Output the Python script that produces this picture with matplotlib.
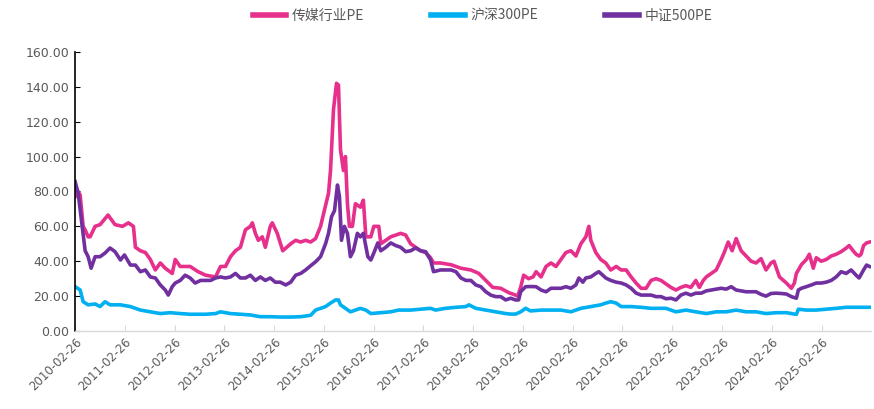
import matplotlib
matplotlib.use("Agg")
import matplotlib.pyplot as plt

# x values are decimal years
media_t = [2010.16, 2010.22, 2010.26, 2010.32, 2010.36, 2010.42, 2010.46, 2010.56, 2010.66, 2010.82,
           2010.96, 2011.11, 2011.23, 2011.33, 2011.37, 2011.47, 2011.57, 2011.67, 2011.77, 2011.87,
           2011.97, 2012.11, 2012.17, 2012.27, 2012.47, 2012.63, 2012.78, 2012.98, 2013.08, 2013.18,
           2013.28, 2013.38, 2013.48, 2013.58, 2013.68, 2013.72, 2013.78, 2013.84, 2013.92, 2013.98,
           2014.08, 2014.12, 2014.22, 2014.33, 2014.41, 2014.49, 2014.59, 2014.69, 2014.79, 2014.89,
           2014.99, 2015.09, 2015.19, 2015.25, 2015.29, 2015.35, 2015.41, 2015.45, 2015.49, 2015.55,
           2015.59, 2015.63, 2015.67, 2015.73, 2015.79, 2015.89, 2015.95, 2016.00, 2016.10, 2016.16,
           2016.26, 2016.30, 2016.40, 2016.50, 2016.60, 2016.70, 2016.80, 2016.90, 2017.00, 2017.10,
           2017.20, 2017.30, 2017.36, 2017.50, 2017.71, 2017.91, 2018.11, 2018.27, 2018.41, 2018.55,
           2018.71, 2018.87, 2018.97, 2019.05, 2019.11, 2019.17, 2019.27, 2019.36, 2019.42, 2019.52,
           2019.62, 2019.72, 2019.82, 2019.92, 2020.02, 2020.12, 2020.22, 2020.32, 2020.42, 2020.48,
           2020.52, 2020.62, 2020.72, 2020.82, 2020.92, 2021.03, 2021.13, 2021.23, 2021.33, 2021.43,
           2021.53, 2021.63, 2021.73, 2021.83, 2021.93, 2022.03, 2022.13, 2022.23, 2022.33, 2022.43,
           2022.53, 2022.63, 2022.70, 2022.78, 2022.84, 2022.94, 2023.04, 2023.14, 2023.20, 2023.28,
           2023.36, 2023.44, 2023.54, 2023.64, 2023.74, 2023.84, 2023.94, 2024.04, 2024.14, 2024.20,
           2024.31, 2024.45, 2024.55, 2024.61, 2024.65, 2024.75, 2024.85, 2024.91, 2024.99, 2025.05,
           2025.15, 2025.25, 2025.35, 2025.45, 2025.55, 2025.65, 2025.71, 2025.79, 2025.85, 2025.91,
           2025.95, 2026.00, 2026.06, 2026.12]
media_pe = [77, 80, 78, 60, 58, 54, 54, 60, 61, 66.5,
            61, 60, 62, 60, 48, 46, 45, 41, 35, 39,
            36, 33, 41, 37, 37, 34, 32, 31, 37, 37,
            42.6, 46, 48, 58, 60, 62, 56, 52, 54, 48,
            60, 62, 56, 46, 48, 50, 52, 51, 52, 51,
            53, 60, 72, 79, 92, 127, 142, 141, 104, 92,
            100, 73, 60, 60, 73, 71, 75, 54, 54, 60,
            60, 50, 52, 54, 55, 56, 55, 50, 48, 46,
            45, 42, 39, 39, 38, 36, 35, 33, 29, 25,
            24.5, 22, 21, 20, 25, 32, 30, 31, 34, 31,
            37, 39, 37, 41, 45, 46, 43, 50, 54, 60,
            52, 45, 41, 39, 35, 37, 35, 35, 31, 27.5,
            24.5, 24.5, 29, 30, 29, 27, 25, 23.5, 25, 26,
            25, 29, 25, 29, 31, 33, 35, 41, 45, 51,
            46, 53, 46, 43, 40, 39, 41.5, 35, 39, 40,
            31, 27.5, 24.5, 27.5, 33, 38, 41, 44, 36, 42,
            40, 41, 43, 44, 45.5, 47.5, 49, 46, 44, 43,
            44, 49, 50.5, 51]

csi500_t = [2010.16, 2010.22, 2010.30, 2010.36, 2010.42, 2010.48, 2010.56, 2010.66, 2010.76, 2010.86,
            2010.96, 2011.07, 2011.15, 2011.27, 2011.37, 2011.47, 2011.57, 2011.67, 2011.77, 2011.87,
            2011.97, 2012.03, 2012.11, 2012.17, 2012.27, 2012.37, 2012.47, 2012.57, 2012.68, 2012.78,
            2012.88, 2012.98, 2013.08, 2013.18, 2013.28, 2013.38, 2013.48, 2013.58, 2013.68, 2013.78,
            2013.88, 2013.98, 2014.08, 2014.18, 2014.28, 2014.39, 2014.49, 2014.59, 2014.69, 2014.79,
            2014.89, 2014.99, 2015.09, 2015.19, 2015.25, 2015.31, 2015.37, 2015.43, 2015.47, 2015.51,
            2015.57, 2015.63, 2015.69, 2015.75, 2015.83, 2015.89, 2015.95, 2016.04, 2016.10, 2016.16,
            2016.24, 2016.30, 2016.40, 2016.50, 2016.60, 2016.70, 2016.80, 2016.90, 2017.00, 2017.10,
            2017.20, 2017.30, 2017.36, 2017.50, 2017.71, 2017.81, 2017.91, 2018.01, 2018.11, 2018.21,
            2018.31, 2018.41, 2018.51, 2018.61, 2018.71, 2018.81, 2018.91, 2019.01, 2019.07, 2019.11,
            2019.21, 2019.31, 2019.42, 2019.52, 2019.62, 2019.72, 2019.82, 2019.92, 2020.02, 2020.12,
            2020.22, 2020.28, 2020.36, 2020.42, 2020.52, 2020.62, 2020.68, 2020.76, 2020.82, 2020.92,
            2021.03, 2021.13, 2021.23, 2021.33, 2021.43, 2021.53, 2021.63, 2021.73, 2021.83, 2021.93,
            2022.03, 2022.13, 2022.23, 2022.33, 2022.43, 2022.53, 2022.63, 2022.74, 2022.84, 2022.94,
            2023.04, 2023.14, 2023.24, 2023.34, 2023.44, 2023.54, 2023.64, 2023.74, 2023.84, 2023.94,
            2024.04, 2024.14, 2024.24, 2024.35, 2024.45, 2024.55, 2024.65, 2024.69, 2024.75, 2024.85,
            2024.95, 2025.05, 2025.15, 2025.25, 2025.35, 2025.45, 2025.55, 2025.65, 2025.75, 2025.85,
            2025.91, 2026.00, 2026.06, 2026.12]
csi500_pe = [85.6, 79, 60, 46, 42.6, 36, 42.6, 42.6, 44.7, 47.6,
             45.5, 40.7, 43.6, 37.8, 37.8, 34, 35, 31, 30.4, 26.4,
             23.5, 20.6, 25.4, 27.5, 29, 32, 30.4, 27.5, 29, 29,
             29, 30.4, 31, 30.4, 31, 33, 30.4, 30.4, 32, 29,
             31, 29, 30.4, 28, 28, 26.4, 28, 32, 33, 35,
             37.4, 39.7, 42.6, 50, 56, 65.5, 69, 83.7, 77, 52,
             60, 56, 42.6, 46, 56, 54, 56, 42.6, 40.7, 44.7,
             50.5, 46, 48, 50.5, 49, 48, 45.5, 46, 47.6, 46,
             45.5, 40.7, 34, 35, 35, 34, 30.4, 29, 29, 26.4,
             25.4, 22.5, 20.6, 19.7, 19.7, 17.8, 18.8, 17.8, 17.8, 22.5,
             25.4, 25.5, 25.4, 23.5, 22.5, 24.5, 24.5, 24.5, 25.4, 24.5,
             26.4, 30.4, 28, 30.4, 31, 33, 34, 32, 30.4, 29,
             28, 27.5, 26.4, 24.5, 21.7, 20.6, 20.6, 20.6, 19.7, 19.7,
             18.5, 18.8, 17.8, 20.6, 21.7, 20.6, 21.7, 21.7, 23, 23.5,
             24, 24.5, 24, 25.4, 23.5, 23, 22.5, 22.5, 22.5, 21,
             20, 21.5, 21.7, 21.5, 21.2, 19.7, 18.8, 23.5, 24.5, 25.4,
             26.4, 27.5, 27.5, 28, 29, 31, 34, 33, 35, 32,
             30.4, 35, 37.8, 37]

hs300_t = [2010.16, 2010.26, 2010.32, 2010.42, 2010.56, 2010.66, 2010.76, 2010.86, 2011.07, 2011.27,
           2011.47, 2011.67, 2011.87, 2012.07, 2012.27, 2012.47, 2012.78, 2012.98, 2013.08, 2013.28,
           2013.48, 2013.68, 2013.88, 2014.08, 2014.28, 2014.49, 2014.69, 2014.89, 2014.99, 2015.09,
           2015.19, 2015.29, 2015.39, 2015.45, 2015.49, 2015.59, 2015.69, 2015.79, 2015.89, 2016.00,
           2016.10, 2016.30, 2016.50, 2016.66, 2016.90, 2017.10, 2017.30, 2017.40, 2017.60, 2017.81,
           2018.01, 2018.07, 2018.21, 2018.41, 2018.61, 2018.81, 2018.91, 2019.01, 2019.11, 2019.21,
           2019.31, 2019.52, 2019.72, 2019.92, 2020.12, 2020.22, 2020.32, 2020.52, 2020.72, 2020.82,
           2020.92, 2021.03, 2021.13, 2021.33, 2021.53, 2021.73, 2021.93, 2022.03, 2022.23, 2022.43,
           2022.63, 2022.84, 2023.04, 2023.24, 2023.44, 2023.64, 2023.84, 2024.04, 2024.24, 2024.45,
           2024.55, 2024.65, 2024.69, 2024.85, 2025.05, 2025.25, 2025.45, 2025.65, 2025.85, 2026.06,
           2026.12]
hs300_pe = [25.4, 23.5, 16.8, 15, 15.5, 14, 16.8, 15, 15, 14,
            12, 11, 10, 10.5, 10, 9.6, 9.6, 10, 11, 10,
            9.6, 9.2, 8.2, 8.2, 8, 8, 8.2, 9, 12, 13,
            14, 16, 17.8, 17.8, 15, 13, 11, 12, 13, 12,
            10, 10.5, 11, 12, 12, 12.5, 13, 12, 13, 13.6,
            14, 15, 13, 12, 11, 10, 9.7, 9.7, 11, 13,
            11.5, 12, 12, 12, 11, 12, 13, 14, 15, 16,
            16.8, 16, 14, 14, 13.6, 13, 13, 13, 11, 12,
            11, 10, 11, 11, 12, 11, 11, 10, 10.5, 10.5,
            10, 9.5, 12.5, 12, 12, 12.5, 13, 13.6, 13.6, 13.6,
            13.6]

tick_years = list(range(2010, 2026))
tick_labels = [f"{y}-02-26" for y in tick_years]

fig = plt.figure(figsize=(8.74, 4.09), dpi=100)
ax = fig.add_axes([0.0858, 0.1907, 0.9108, 0.6823])

ax.plot(media_t, media_pe, color="#E6308C", lw=2.6, label="传媒行业PE", solid_joinstyle="round")
ax.plot(hs300_t, hs300_pe, color="#00B0F0", lw=2.6, label="沪深300PE", solid_joinstyle="round")
ax.plot(csi500_t, csi500_pe, color="#7030A0", lw=2.6, label="中证500PE", solid_joinstyle="round")

ax.set_ylim(0, 160)
ax.set_yticks(range(0, 161, 20))
ax.set_yticklabels([f"{v:.2f}" for v in range(0, 161, 20)])
ax.set_xlim(2010.156, 2026.15)
ax.set_xticks([y + 0.156 for y in tick_years])
ax.set_xticklabels(tick_labels, rotation=45, ha="right", rotation_mode="anchor")

for s in ["top", "right"]:
    ax.spines[s].set_visible(False)
ax.spines["left"].set_color("black")
ax.spines["left"].set_linewidth(1.2)
ax.spines["bottom"].set_color("#D9D9D9")
ax.spines["bottom"].set_linewidth(1.0)
ax.tick_params(axis="y", direction="in", length=3.5, color="black", labelcolor="#595959",
               labelsize=9, pad=4)
ax.tick_params(axis="x", direction="in", length=4, color="#D9D9D9", labelcolor="#595959",
               labelsize=8.5, pad=3)

leg = fig.legend(loc="upper center", bbox_to_anchor=(0.552, 1.01), ncol=3, frameon=False,
                 handlelength=2.4, columnspacing=4.85, handletextpad=0.4,
                 prop={"family": ["Noto Sans CJK SC", "DejaVu Sans"], "size": 10})
for line in leg.get_lines():
    line.set_linewidth(4)
for t in leg.get_texts():
    t.set_color("#595959")

fig.savefig("out.png", dpi=100)
